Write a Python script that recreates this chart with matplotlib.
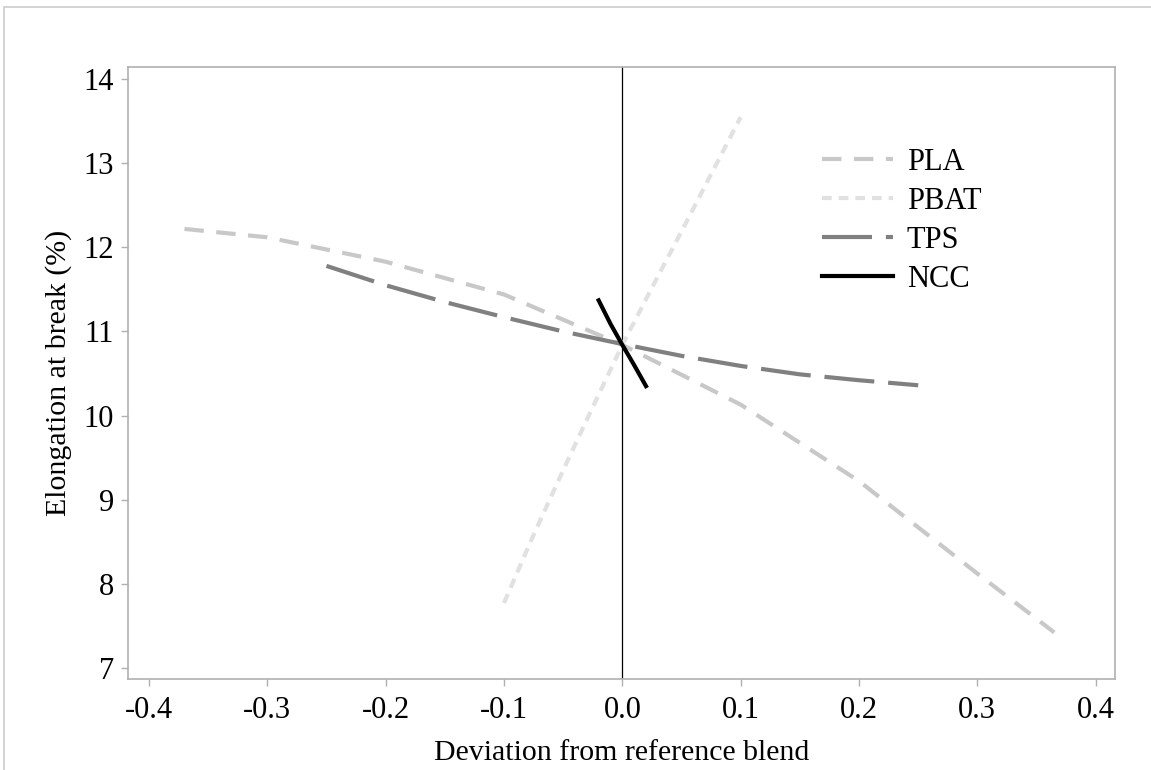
import matplotlib
matplotlib.use("Agg")
import matplotlib.pyplot as plt
from matplotlib.patches import Rectangle

plt.rcParams['font.family'] = ['Liberation Serif', 'DejaVu Serif']
plt.rcParams['axes.unicode_minus'] = False
plt.rcParams['lines.scale_dashes'] = False

# data
pla_x = [-0.37, -0.3, -0.2, -0.1, 0.0, 0.1, 0.2, 0.3, 0.365]
pla_y = [12.22, 12.12, 11.83, 11.44, 10.84, 10.13, 9.22, 8.12, 7.42]

pbat_x = [-0.1, -0.075, -0.05, -0.025, 0.0, 0.025, 0.05, 0.075, 0.1]
pbat_y = [7.77, 8.58, 9.35, 10.10, 10.84, 11.52, 12.19, 12.87, 13.55]

tps_x = [-0.25, -0.2, -0.15, -0.1, -0.05, 0.0, 0.05, 0.1, 0.15, 0.2, 0.25]
tps_y = [11.78, 11.55, 11.35, 11.17, 11.00, 10.85, 10.71, 10.59, 10.49, 10.42, 10.36]

ncc_x = [-0.02, -0.01, 0.0, 0.01, 0.02]
ncc_y = [11.37, 11.09, 10.84, 10.60, 10.35]

xticks = [-0.4, -0.3, -0.2, -0.1, 0.0, 0.1, 0.2, 0.3, 0.4]
xticklabels = ['-0.4', '-0.3', '-0.2', '-0.1', '0.0', '0.1', '0.2', '0.3', '0.4']
yticks = [7, 8, 9, 10, 11, 12, 13, 14]

fs = 22

fig = plt.figure(figsize=(11.51, 7.70), dpi=100)
ax = fig.add_axes([128 / 1151, 1 - 679 / 770, (1115 - 128) / 1151, (679 - 67) / 770])

# light frame around the figure
fig.patches.append(Rectangle((4 / 1151, -0.1), 1.2, 1 - 7 / 770 + 0.1,
                             transform=fig.transFigure, fill=False,
                             edgecolor='#cccccc', linewidth=1.2))

ax.axvline(0, color='black', linewidth=0.9, zorder=1)

ax.plot(pla_x, pla_y, color='#c8c8c8', linewidth=3, dashes=(14, 9), label='PLA')
ax.plot(pbat_x, pbat_y, color='#e1e1e1', linewidth=3, dashes=(7, 5), label='PBAT')
ax.plot(tps_x, tps_y, color='#808080', linewidth=3, dashes=(36, 10), label='TPS')
ax.plot(ncc_x, ncc_y, color='black', linewidth=3, label='NCC')

ax.set_xlim(-0.4177, 0.4163)
ax.set_ylim(6.866, 14.146)
ax.set_xticks(xticks)
ax.set_xticklabels(xticklabels)
ax.set_yticks(yticks)

for s in ax.spines.values():
    s.set_color('#b0b0b0')
    s.set_linewidth(1.2)
ax.tick_params(axis='both', colors='#b0b0b0', labelcolor='black', length=5,
               width=1, labelsize=fs)
ax.tick_params(axis='x', pad=7)
ax.tick_params(axis='y', pad=5)

ax.set_xlabel('Deviation from reference blend', fontsize=21.5, labelpad=11)
ax.set_ylabel('Elongation at break (%)', fontsize=21.5, labelpad=8)

ax.legend(loc='upper left', bbox_to_anchor=(0.703, 0.868), frameon=False,
          fontsize=fs, handlelength=2.32, handletextpad=0.46, labelspacing=0.33,
          borderpad=0, borderaxespad=0)

fig.savefig('out.png', dpi=100)
